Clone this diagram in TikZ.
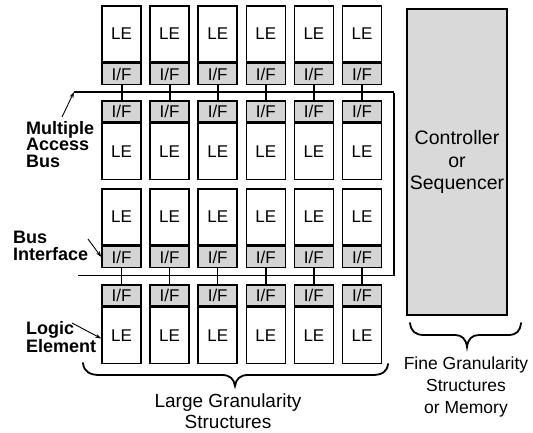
\documentclass[tikz,border=0pt]{standalone}
\usepackage{fontspec}
\setmainfont{Liberation Sans}
\usetikzlibrary{arrows.meta}

\begin{document}
\begin{tikzpicture}[x=1pt,y=-1pt,
  cell/.style={draw=black,line width=1.5pt,rectangle,inner sep=0pt,
    minimum width=39pt,font=\fontsize{17}{17}\selectfont},
  lecell/.style={cell,fill=white,minimum height=56pt},
  ifcell/.style={cell,fill=black!17,minimum height=21pt},
  tap/.style={line width=2pt},
  tapthin/.style={line width=1.4pt},
  tag/.style={font=\bfseries\fontsize{18}{16.5}\selectfont,align=left,inner sep=0pt},
  pointer/.style={line width=0.9pt,-{Stealth[length=6pt,width=4pt]}},
  bracepath/.style={line width=1.8pt,line cap=round},
  caption/.style={align=center,inner sep=0pt}
]
\useasboundingbox (0,0) rectangle (533,433);

% four rows of logic elements with their bus interfaces
\foreach \i in {1,...,6}{
  \pgfmathsetmacro{\cx}{121.5+48.1*(\i-1)}
  % row 1: LE above I/F
  \node[lecell] (a\i) at (\cx,34) {LE};
  \node[ifcell,anchor=north] (ai\i) at (a\i.south) {I/F};
  % row 2: I/F above LE
  \node[ifcell] (bi\i) at (\cx,111.5) {I/F};
  \node[lecell,anchor=north] (b\i) at (bi\i.south) {LE};
  % row 3: LE above I/F
  \node[lecell] (c\i) at (\cx,217) {LE};
  \node[ifcell,anchor=north] (ci\i) at (c\i.south) {I/F};
  % row 4: I/F above LE
  \node[ifcell] (di\i) at (\cx,295.5) {I/F};
  \node[lecell,anchor=north] (d\i) at (di\i.south) {LE};
  % taps onto the buses
  \draw[tap] (ai\i.south) -- (bi\i.north);
  \draw[tapthin] (ci\i.south) -- (di\i.north);
}

% the multiple access bus
\coordinate (busA) at (74,92);
\coordinate (busB) at (394,92);
\coordinate (busC) at (394,275.5);
\coordinate (busD) at (78,275.5);
\draw[line width=2.4pt] (busA) -- (busB);
\draw[line width=1.9pt] ([yshift=-1.2pt]busB) -- (busC);
\draw[line width=1.4pt] ([xshift=0.95pt]busC) -- (busD);

% controller / sequencer block
\node[draw=black,line width=1.5pt,fill=black!15,minimum width=100pt,minimum height=306pt,
  inner sep=0pt,align=center,font=\fontsize{19.5}{22.5}\selectfont] (ctrl) at (457,162)
  {Controller\\or\\Sequencer};

% side labels
\node[tag,anchor=north west] (lbus) at (26,121) {Multiple\\Access\\Bus};
\node[tag,anchor=north west] (lif) at (13,231) {Bus\\Interface};
\node[tag,anchor=north west] (lle) at (26,321) {Logic\\Element};

\coordinate (pbus) at (62,117);
\coordinate (pif) at (88,239);
\coordinate (ple) at (72,323);
\draw[pointer] (pbus) -- (busA);
\draw[pointer] (pif) -- (ci1.west);
\draw[pointer] (ple) -- ([yshift=-3pt]d1.west);

% brace under the large granularity array
\draw[bracepath] (83,363) .. controls (84,372) and (90,375) .. (100,375)
  -- (222,375) .. controls (230,375) and (234,379) .. (235,386)
  .. controls (236,379) and (240,375) .. (248,375)
  -- (372,375) .. controls (382,375) and (387,372) .. (388,364);
\node[caption,font=\fontsize{19}{21.5}\selectfont] (lg) at (228,411)
  {Large Granularity\\Structures};

% brace under the fine granularity block
\draw[bracepath] (410,323) .. controls (411,331) and (415,335) .. (424,335)
  -- (455,335) .. controls (462,335) and (466,339) .. (467,347)
  .. controls (468,339) and (472,335) .. (479,335)
  -- (508,335) .. controls (517,335) and (520,331) .. (521,323);
\node[caption,font=\fontsize{17.5}{22}\selectfont] (fg) at (466,387)
  {Fine Granularity\\Structures\\or Memory};
\end{tikzpicture}
\end{document}
